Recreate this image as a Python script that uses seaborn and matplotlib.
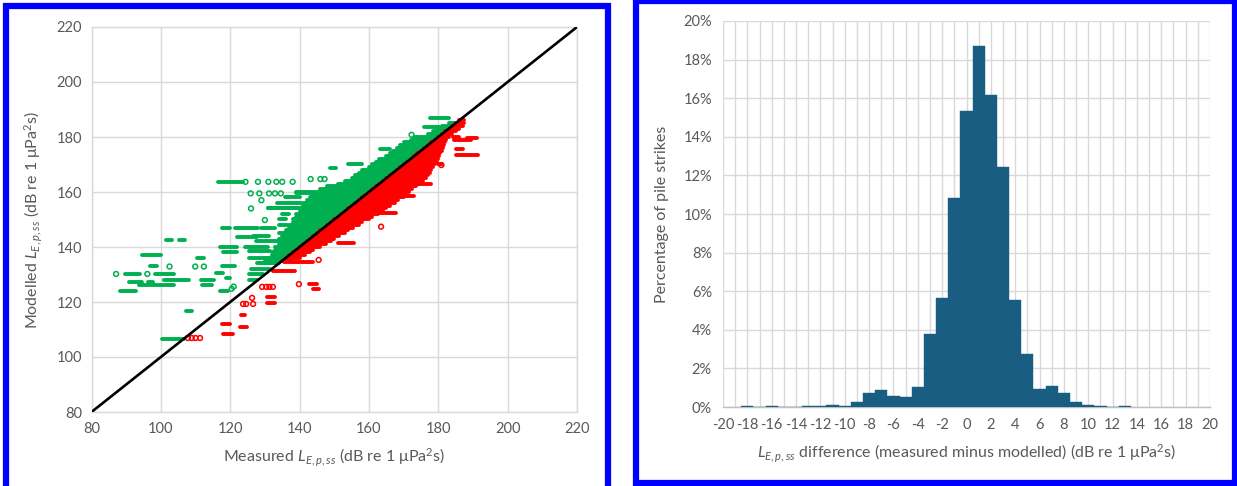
import numpy as np
import pandas as pd
import matplotlib
matplotlib.use("Agg")
import matplotlib.pyplot as plt
import seaborn as sns
from matplotlib.patches import Rectangle
from matplotlib.ticker import MultipleLocator, FuncFormatter

sns.set_theme(style="white")
plt.rcParams['font.family'] = ['Lato', 'DejaVu Sans']
plt.rcParams['mathtext.fontset'] = 'custom'
plt.rcParams['mathtext.rm'] = 'Lato'
plt.rcParams['mathtext.it'] = 'Lato:italic'
plt.rcParams['axes.unicode_minus'] = False

# ---------------- data: scatter (measured x, modelled y) ----------------
# isolated green points (modelled > measured)
green_pt_x = [87.1, 96.1, 102.5, 109.9, 112.4, 121.0, 120.4, 124.4, 128.0, 131.0, 133.3, 135.0, 138.0,
              143.2, 146.0, 147.2, 125.9, 128.4, 131.2, 132.9, 134.6, 130.0, 172.3, 126.0, 129.0]
green_pt_y = [130.2, 130.2, 132.9, 132.9, 132.9, 125.6, 124.8, 163.7, 163.7, 163.7, 163.7, 163.7, 163.7,
              164.7, 164.7, 164.7, 159.5, 159.5, 159.5, 159.5, 159.5, 149.8, 180.8, 154.0, 157.0]
# horizontal strings of green points: modelled level, measured from .. to
green_run_y = [130.2, 127.1, 127.1, 126.0, 124.0, 137.0, 133.2, 130.2, 128.0, 142.6, 142.6, 106.6, 116.9,
               135.9, 128.0, 126.0, 130.5, 140.0, 138.0, 146.8, 146.8, 143.5, 124.0, 133.0, 128.6, 163.7,
               154.0, 159.7, 168.6, 170.2, 175.5, 183.8, 186.8, 140.0, 138.5, 136.0, 134.0, 132.0, 130.0,
               128.0, 144.0, 142.0, 147.0, 156.0, 158.0, 152.0, 150.0, 148.0]
green_run_x0 = [89.8, 90.8, 96.4, 93.6, 88.2, 94.7, 97.0, 98.4, 101.0, 101.6, 105.2, 100.2, 107.3,
                110.4, 111.6, 111.8, 115.8, 117.0, 118.0, 117.5, 121.5, 122.0, 117.0, 117.5, 118.7, 116.4,
                131.0, 139.0, 148.9, 154.0, 163.3, 176.0, 177.5, 124.4, 125.5, 125.5, 127.8, 126.0, 125.5,
                125.5, 126.7, 127.5, 129.0, 133.5, 135.8, 135.0, 134.0, 134.0]
green_run_x1 = [94.0, 94.7, 97.6, 103.8, 92.8, 99.9, 99.0, 103.8, 108.2, 103.2, 106.9, 106.7, 109.0,
                112.4, 115.3, 114.7, 118.0, 122.0, 122.0, 119.8, 128.0, 127.8, 119.3, 121.5, 119.8, 123.8,
                139.0, 143.8, 150.6, 158.0, 166.0, 180.5, 183.0, 131.0, 131.5, 131.2, 133.5, 131.5, 129.5,
                127.8, 131.2, 134.0, 133.0, 140.3, 140.0, 137.0, 136.0, 136.5]
# dense green band: modelled level and left-most measured value (band runs up to the 1:1 line)
green_band_y = list(range(134, 186))
green_band_x0 = [129, 130, 131, 132, 132, 133, 133, 134, 134, 134, 135, 134, 136, 137, 137, 138, 138,
                 139, 139, 140, 131, 141, 141, 142, 143, 144, 139, 146, 148, 151, 153, 155, 156, 157,
                 158, 160, 161, 162, 163, 165, 166, 167, 168, 169, 170, 172, 173, 177, 178.5, 180, 181, 183]

# isolated red points (modelled < measured)
red_pt_x = [129.2, 130.4, 131.3, 132.3, 123.7, 124.6, 126.6, 126.3, 139.8, 145.5, 163.5, 180.9,
            107.8, 108.9, 110.0, 111.3]
red_pt_y = [125.5, 125.5, 125.5, 125.5, 119.3, 119.3, 119.3, 121.5, 126.5, 135.3, 147.4, 169.8,
            106.9, 106.9, 106.9, 106.9]
red_run_y = [131.4, 134.4, 126.5, 124.6, 121.8, 119.6, 112.0, 110.9, 108.4, 141.3, 170.0, 180.0,
             178.8, 179.8, 173.5, 175.5, 163.0, 158.7, 152.5, 115.3]
red_run_x0 = [132.4, 135.5, 142.6, 143.8, 130.6, 130.6, 117.6, 122.8, 118.0, 151.2, 180.0, 184.3,
              184.5, 188.3, 185.0, 185.0, 172.0, 167.7, 163.0, 123.2]
red_run_x1 = [138.6, 143.8, 145.0, 145.5, 132.9, 132.9, 119.9, 124.8, 120.9, 155.8, 181.0, 186.0,
              189.4, 191.1, 191.5, 187.0, 178.0, 172.9, 167.7, 124.2]
# dense red band: modelled level and right-most measured value (band starts at the 1:1 line)
red_band_y = list(range(135, 187))
red_band_x1 = [137.5, 140, 141.5, 143, 144, 146, 147.5, 149, 150, 151.5, 153, 154, 155.5, 157, 158,
               160, 161, 162.5, 164, 165, 166, 167.5, 168.5, 170, 170.5, 171.5, 172.5, 173.5, 174.5,
               175.5, 176.5, 177, 177.5, 178, 178.5, 179, 179.5, 180, 180.3, 180.6, 181, 181.3,
               181.6, 182, 182.3, 183, 184, 185, 186, 187, 187.5, 187.5]

line_xy = [80, 220]

# ---------------- data: histogram ----------------
hist_centers = list(range(-18, 14))
hist_pct = [0.05, 0.0, 0.05, 0.0, 0.0, 0.05, 0.05, 0.1, 0.05, 0.24, 0.75, 0.9, 0.55, 0.5, 1.05,
            3.76, 5.67, 10.83, 15.32, 18.72, 16.19, 12.44, 5.53, 2.77, 0.93, 1.08, 0.75, 0.24,
            0.1, 0.05, 0.0, 0.05]

GREEN = '#00b050'
RED = '#ff0000'
BAR = '#195e82'
GRID = '#d9d9d9'
TXT = '#595959'

W, H = 1237, 486
fig = plt.figure(figsize=(W / 100, H / 100), dpi=100)
fig.patch.set_facecolor('white')


def fax(x0, y0, x1, y1):
    return [x0 / W, 1 - y1 / H, (x1 - x0) / W, (y1 - y0) / H]


# ---------------- left: scatter ----------------
ax1 = fig.add_axes(fax(91.5, 27, 577, 412))
ax1.set_facecolor('white')
lw_run = 2.8
ax1.hlines(green_run_y, green_run_x0, green_run_x1, colors=GREEN, linewidth=lw_run, capstyle='round', zorder=2)
ax1.hlines(green_band_y, green_band_x0, green_band_y, colors=GREEN, linewidth=lw_run, capstyle='round', zorder=2)
sns.scatterplot(x=green_pt_x, y=green_pt_y, ax=ax1, marker='o', s=12, facecolor='none',
                edgecolor=GREEN, linewidth=1.1, zorder=3)
ax1.hlines(red_band_y, red_band_y, red_band_x1, colors=RED, linewidth=lw_run, capstyle='round', zorder=4)
ax1.hlines(red_run_y, red_run_x0, red_run_x1, colors=RED, linewidth=lw_run, capstyle='round', zorder=4)
sns.scatterplot(x=red_pt_x, y=red_pt_y, ax=ax1, marker='o', s=12, facecolor='none',
                edgecolor=RED, linewidth=1.1, zorder=5)
ax1.plot(line_xy, line_xy, color='black', linewidth=1.9, zorder=6, solid_capstyle='butt')

ax1.set_xlim(80, 220)
ax1.set_ylim(80, 220)
ax1.xaxis.set_major_locator(MultipleLocator(20))
ax1.yaxis.set_major_locator(MultipleLocator(20))
ax1.grid(True, color=GRID, linewidth=1.0)
ax1.set_axisbelow(True)
for s in ax1.spines.values():
    s.set_color(GRID)
    s.set_linewidth(1.0)
ax1.tick_params(length=0, labelsize=10.5, labelcolor=TXT, pad=7)
ax1.set_xlabel(r'Measured $\mathit{L}_{\mathit{E,p,ss}}$ (dB re 1 μPa$^{2}$s)', fontsize=11.5, color=TXT, labelpad=8)
ax1.set_ylabel(r'Modelled $\mathit{L}_{\mathit{E,p,ss}}$ (dB re 1 μPa$^{2}$s)', fontsize=11.5, color=TXT, labelpad=8)

# ---------------- right: histogram ----------------
ax2 = fig.add_axes(fax(723, 21, 1210, 407))
ax2.set_facecolor('white')
hist_df = pd.DataFrame({'diff': hist_centers, 'pct': hist_pct})
sns.histplot(data=hist_df, x='diff', weights='pct', discrete=True, ax=ax2, color=BAR, alpha=1.0,
             edgecolor=BAR, linewidth=0.3, zorder=3)
ax2.set_xlim(-20, 20)
ax2.set_ylim(0, 20)
ax2.xaxis.set_major_locator(MultipleLocator(2))
ax2.xaxis.set_minor_locator(MultipleLocator(1))
ax2.yaxis.set_major_locator(MultipleLocator(2))
ax2.xaxis.set_major_formatter(FuncFormatter(lambda v, p: f'{v:.0f}'))
ax2.yaxis.set_major_formatter(FuncFormatter(lambda v, p: f'{v:.0f}%'))
ax2.grid(True, which='both', axis='x', color=GRID, linewidth=1.0)
ax2.grid(True, which='major', axis='y', color=GRID, linewidth=1.0)
ax2.set_axisbelow(True)
for k, s in ax2.spines.items():
    s.set_visible(k == 'bottom')
ax2.spines['bottom'].set_color('#bfbfbf')
ax2.spines['bottom'].set_linewidth(1.0)
ax2.tick_params(which='both', length=0, labelsize=10.5, labelcolor=TXT, pad=8)
ax2.set_xlabel(r'$\mathit{L}_{\mathit{E,p,ss}}$ difference (measured minus modelled) (dB re 1 μPa$^{2}$s)',
               fontsize=11.5, color=TXT, labelpad=8)
ax2.set_ylabel('Percentage of pile strikes', fontsize=11.5, color=TXT, labelpad=10)

# ---------------- blue panel frames ----------------
fig.add_artist(Rectangle((6 / W, 1 - 490 / H), (608 - 6) / W, (490 - 6) / H, transform=fig.transFigure,
                         fill=False, edgecolor='#0000ff', linewidth=4.5))
fig.add_artist(Rectangle((636 / W, 1 - 483 / H), (1235 - 636) / W, (483 - 1.5) / H, transform=fig.transFigure,
                         fill=False, edgecolor='#0000ff', linewidth=4.5))

fig.savefig('out.png', dpi=100, facecolor='white')
